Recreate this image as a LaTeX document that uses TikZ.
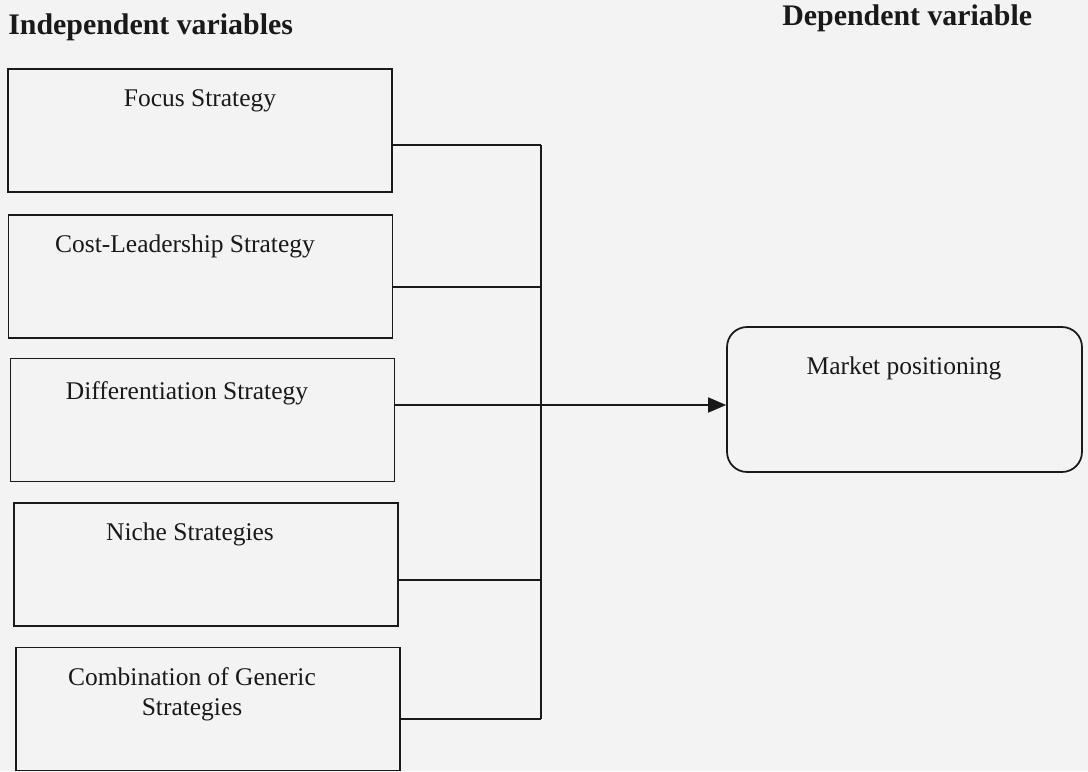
\documentclass[tikz,border=0pt]{standalone}
\usepackage{fontspec}
\setmainfont{Liberation Serif}
\usetikzlibrary{arrows.meta}
\definecolor{bgc}{RGB}{243,243,243}
\definecolor{ink}{RGB}{25,25,25}
\tikzset{
  stratbox/.style={draw=ink, line width=1pt, minimum width=7.68cm, minimum height=2.46cm, inner sep=0pt},
  boxtext/.style={anchor=north, font=\fontsize{14.5}{17}\selectfont, align=center, text=ink},
  title/.style={anchor=west, font=\fontsize{17}{20}\selectfont\bfseries, text=ink, inner sep=0pt},
  conn/.style={draw=ink, line width=1pt},
  arr/.style={conn, -{Triangle[length=0.36cm,width=0.3cm]}},
  outbox/.style={draw=ink, line width=1pt, rounded corners=0.4cm, minimum width=7.1cm, minimum height=2.9cm, inner sep=0pt}
}
\begin{document}
\begin{tikzpicture}[x=0.02cm, y=-0.02cm]
\fill[bgc] (0,0) rectangle (1088,771);
\useasboundingbox (0,0) rectangle (1088,771);

\node[title] (indep) at (8,27) {Independent variables};
\node[title] (dep) at (782,18) {Dependent variable};

\node[stratbox] (b1) at (200,130.5) {};
\node[stratbox] (b2) at (200.5,276.5) {};
\node[stratbox] (b3) at (202.5,420) {};
\node[stratbox] (b4) at (206,564.5) {};
\node[stratbox] (b5) at (208,709) {};

\node[boxtext] (t1) at (200,83) {Focus Strategy};
\node[boxtext] (t2) at (185,229) {Cost-Leadership Strategy};
\node[boxtext] (t3) at (187,375) {Differentiation Strategy};
\node[boxtext] (t4) at (190,517) {Niche Strategies};
\node[boxtext] (t5) at (192,661) {Combination of Generic\\Strategies};

\node[outbox] (mp) at (904.5,399.5) {};
\node[boxtext] (mpt) at (904,351) {Market positioning};

\coordinate (c1) at (541,145);
\coordinate (c2) at (541,287);
\coordinate (c3) at (541,405);
\coordinate (c4) at (541,580);
\coordinate (c5) at (541,719);

\draw[conn] (b1.east |- c1) -- (c1);
\draw[conn] (b2.east |- c2) -- (c2);
\draw[conn] (b3.east |- c3) -- (c3);
\draw[conn] (b4.east |- c4) -- (c4);
\draw[conn] (b5.east |- c5) -- (c5);
\draw[conn] (c1) -- (c5);
\draw[arr] (c3) -- (mp.west |- c3);
\end{tikzpicture}
\end{document}
